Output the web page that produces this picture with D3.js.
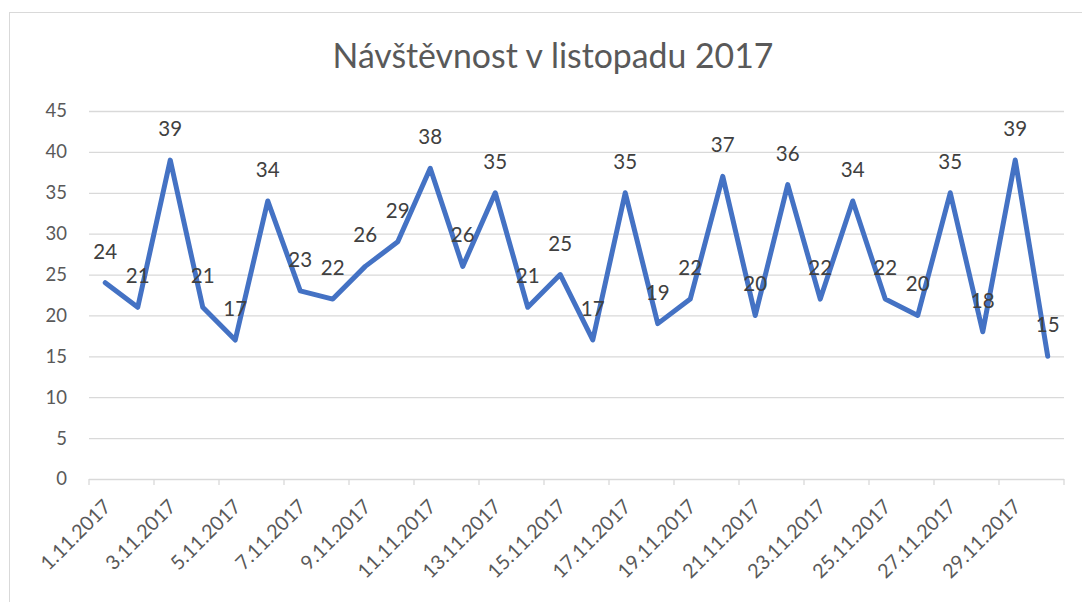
<!DOCTYPE html>
<html>
  <head>
    <meta charset="UTF-8" />
    <script src="https://cdn.jsdelivr.net/npm/d3@7"></script>
    <title>Návštěvnost v listopadu 2017</title>
    <style type="text/css">
      body { margin: 0; background: #fff; }
      svg text { font-family: Lato, "Open Sans", sans-serif; }
    </style>
  </head>
  <body>
    <div id="chartcontainer"></div>
    <script>
      // data
      var days = ["1.11.2017", "2.11.2017", "3.11.2017", "4.11.2017", "5.11.2017",
        "6.11.2017", "7.11.2017", "8.11.2017", "9.11.2017", "10.11.2017",
        "11.11.2017", "12.11.2017", "13.11.2017", "14.11.2017", "15.11.2017",
        "16.11.2017", "17.11.2017", "18.11.2017", "19.11.2017", "20.11.2017",
        "21.11.2017", "22.11.2017", "23.11.2017", "24.11.2017", "25.11.2017",
        "26.11.2017", "27.11.2017", "28.11.2017", "29.11.2017", "30.11.2017"];
      var visits = [24, 21, 39, 21, 17, 34, 23, 22, 26, 29, 38, 26, 35, 21, 25,
        17, 35, 19, 22, 37, 20, 36, 22, 34, 22, 20, 35, 18, 39, 15];
      var yTicks = [0, 5, 10, 15, 20, 25, 30, 35, 40, 45];
      var title = "Návštěvnost v listopadu 2017";

      var W = 1082, H = 602;
      var margin = { top: 111, right: 18, bottom: 123, left: 89 },
        width = W - margin.left - margin.right,
        height = H - margin.top - margin.bottom;

      var root = d3.select("#chartcontainer")
        .append("svg")
        .attr("width", W)
        .attr("height", H);

      // chart area border (runs off the right and bottom)
      root.append("rect")
        .attr("x", 9.5).attr("y", 12.5)
        .attr("width", 1200).attr("height", 700)
        .attr("fill", "#fff")
        .attr("stroke", "#d9d9d9");

      root.append("text")
        .attr("x", 553).attr("y", 68)
        .attr("text-anchor", "middle")
        .attr("font-size", 33.8)
        .attr("fill", "#595959")
        .text(title);

      var svg = root.append("g")
        .attr("transform", "translate(" + margin.left + "," + margin.top + ")");

      var x = d3.scaleBand().domain(days).range([0, width]).padding(0);
      var y = d3.scaleLinear().domain([0, 45]).range([height, 0]);
      var cx = function (d) { return x(d) + x.bandwidth() / 2; };

      // gridlines + y labels
      var yAxis = svg.append("g")
        .call(d3.axisLeft(y).tickValues(yTicks).tickSize(-width).tickPadding(22));
      yAxis.select(".domain").remove();
      yAxis.selectAll("line").attr("stroke", "#d9d9d9").attr("stroke-width", 1.3);
      yAxis.selectAll("text")
        .attr("fill", "#595959")
        .attr("font-size", 18.5);

      // x tick marks between categories, every 2nd
      var boundaries = days.filter(function (d, i) { return i % 2 === 0; })
        .map(function (d) { return x(d); })
        .concat([width]);
      svg.append("g").selectAll("line")
        .data(boundaries)
        .join("line")
        .attr("x1", function (d) { return d; })
        .attr("x2", function (d) { return d; })
        .attr("y1", height)
        .attr("y2", height + 6)
        .attr("stroke", "#d9d9d9")
        .attr("stroke-width", 1.3);

      // x labels
      var xAxis = svg.append("g")
        .attr("transform", "translate(0," + height + ")")
        .call(d3.axisBottom(x)
          .tickValues(days.filter(function (d, i) { return i % 2 === 0; }))
          .tickSize(0));
      xAxis.select(".domain").remove();
      xAxis.selectAll("text")
        .attr("fill", "#595959")
        .attr("font-size", 19.8)
        .attr("text-anchor", "end")
        .attr("y", 0)
        .attr("dy", "0.35em")
        .attr("transform", "translate(2,24) rotate(-45)");

      // the line
      svg.append("path")
        .datum(visits)
        .attr("fill", "none")
        .attr("stroke", "#4472c4")
        .attr("stroke-width", 5)
        .attr("stroke-linejoin", "round")
        .attr("stroke-linecap", "round")
        .attr("d", d3.line()
          .x(function (d, i) { return cx(days[i]); })
          .y(function (d) { return y(d); }));

      // data labels above points
      svg.append("g").selectAll("text")
        .data(visits)
        .join("text")
        .attr("x", function (d, i) { return cx(days[i]); })
        .attr("y", function (d) { return y(d) - 24; })
        .attr("text-anchor", "middle")
        .attr("font-size", 20.5)
        .attr("fill", "#404040")
        .text(function (d) { return d; });
    </script>
  </body>
</html>
